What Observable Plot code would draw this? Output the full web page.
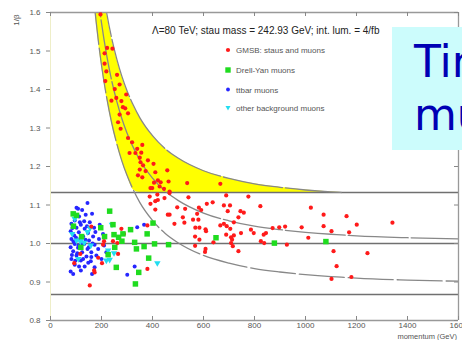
<!DOCTYPE html>
<html><head><meta charset="utf-8">
<script src="https://cdn.jsdelivr.net/npm/d3@7"></script>
<script src="https://cdn.jsdelivr.net/npm/@observablehq/plot@0.6"></script>
<style>
html,body{margin:0;padding:0;background:#fff;width:462px;height:340px;overflow:hidden;}
#wrap{position:relative;width:462px;height:340px;}
#chart svg{display:block;}
.ov{position:absolute;left:0;top:0;pointer-events:none;}
#box{position:absolute;left:392px;top:27px;width:70px;height:123px;background:#ccfcfc;overflow:hidden;}
</style></head><body>
<div id="wrap">
<div id="chart"></div>
<svg class="ov" width="462" height="340" font-family="Liberation Sans, Arial, sans-serif">
  <text x="152" y="34" font-size="10" fill="#222">Λ=80 TeV; stau mass = 242.93 GeV; int. lum. = 4/fb</text>
  <circle cx="228" cy="50" r="2.1" fill="#ff1a1a"/>
  <text x="236" y="53" font-size="8" fill="#555">GMSB: staus and muons</text>
  <rect x="225.3" y="67.3" width="5.4" height="5.4" fill="#1fdc1f"/>
  <text x="236" y="73" font-size="8" fill="#555">Drell-Yan muons</text>
  <circle cx="228" cy="89.5" r="1.9" fill="#2626ff"/>
  <text x="236" y="92.5" font-size="8" fill="#555">ttbar muons</text>
  <path d="M225.5,106 L230.5,106 L228,110.5 Z" fill="#22ddf0"/>
  <text x="236" y="111" font-size="8" fill="#555">other background muons</text>
  <text transform="translate(19,20) rotate(-90)" text-anchor="middle" font-size="8" fill="#555">1/β</text>
  <text x="457" y="339" text-anchor="end" font-size="7.5" fill="#555">momentum (GeV)</text>
</svg>
<div id="box"><svg width="70" height="123" font-family="DejaVu Sans, sans-serif">
  <text x="22" y="50" font-size="44" fill="#0000b4">Time</text>
  <text x="22" y="103" font-size="44" fill="#0000b4">muons</text>
</svg></div>
</div>
<script>
// ---- tick labels / axis values ----
const xTicks = [0, 200, 400, 600, 800, 1000, 1200, 1400, 1600];
const yTicks = [0.8, 0.9, 1.0, 1.1, 1.2, 1.3, 1.4, 1.5, 1.6];
// horizontal selection lines (1/beta)
const cutValues = [1.1325, 1.0, 0.8675];
const bandCut = 1.1325;

// ---- expected-curve values ----
const curveP    = [170, 175, 180, 190, 200, 220, 240, 260, 280, 300, 325, 350, 400, 450, 500, 600, 700, 800, 900, 1000, 1100, 1140, 1200, 1400, 1600];
const curveMid  = [1.744, 1.711, 1.680, 1.623, 1.573, 1.490, 1.423, 1.369, 1.324, 1.287, 1.249, 1.217, 1.170, 1.136, 1.112, 1.079, 1.059, 1.045, 1.036, 1.029, 1.024, 1.0225, 1.020, 1.015, 1.012];
const curveHigh = [1.854, 1.821, 1.790, 1.733, 1.683, 1.600, 1.533, 1.479, 1.434, 1.397, 1.359, 1.327, 1.280, 1.246, 1.222, 1.189, 1.169, 1.155, 1.146, 1.139, 1.134, 1.1325, 1.130, 1.125, 1.122];
const curveLow  = [1.634, 1.601, 1.570, 1.513, 1.463, 1.380, 1.313, 1.259, 1.214, 1.177, 1.139, 1.107, 1.060, 1.026, 1.002, 0.969, 0.949, 0.935, 0.926, 0.919, 0.914, 0.9125, 0.910, 0.905, 0.902];

// ---- GMSB staus and muons (red) ----
const gmsbP = [196,222,243,212,212,219,261,215,271,252,297,258,239,278,284,293,
 304,271,265,275,304,320,360,340,310,333,356,350,353,382,363,404,350,373,411,458,343,360,421,432,406,463,536,428,392,399,445,467,419,541,447,666,
 467,689,776,497,528,582,591,613,636,680,704,695,745,758,823,575,519,559,580,737,525,486,666,680,691,719,568,584,608,610,705,747,786,797,845,836,871,897,920,985,1011,689,708,712,719,567,584,639,708,825,838,927,567,715,608,606,737,467,
 1021,1071,1161,1341,1071,1102,1201,1171,1110,1243,1122,1102,1180,
 160,278,245,206,262,265,117,93,187,173,202,154,380,288,210,171,380,392,421,460,389,411,411];
const gmsbInvBeta = [1.595,1.508,1.506,1.494,1.467,1.447,1.438,1.422,1.413,1.401,1.387,1.378,1.371,1.370,1.354,1.351,
 1.338,1.335,1.315,1.298,1.274,1.263,1.256,1.246,1.235,1.235,1.236,1.223,1.211,1.216,1.203,1.207,1.192,1.188,1.185,1.190,1.177,1.172,1.164,1.159,1.158,1.161,1.157,1.148,1.144,1.144,1.142,1.135,1.127,1.120,1.118,1.155,
 1.131,1.125,1.122,1.094,1.090,1.093,1.087,1.103,1.107,1.099,1.099,1.084,1.084,1.080,1.097,1.077,1.068,1.062,1.062,1.068,1.054,1.051,1.047,1.051,1.045,1.055,1.041,1.041,1.037,1.032,1.038,1.027,1.036,1.027,1.027,1.023,1.040,1.042,1.044,1.042,1.015,1.023,1.016,1.010,1.021,1.018,1.010,1.003,1.001,1.006,1.001,0.997,0.994,0.993,0.986,0.978,0.980,1.075,
 1.093,1.075,1.071,1.054,1.045,1.032,1.049,1.029,0.980,0.975,0.941,0.908,0.913,
 1.044,1.038,1.006,0.997,1.001,0.973,0.973,0.949,0.963,0.925,0.949,0.891,1.047,1.025,1.006,0.930,0.934,1.103,1.113,1.075,1.122,1.110,1.088];

// ---- Drell-Yan muons (green) ----
const dyP = [89,102,232,197,249,267,212,314,379,280,330,367,408,463,226,385,346,333,119,245,284,258,252,337,649,878,1080,122,90,402];
const dyInvBeta = [1.077,1.073,1.084,1.041,1.023,1.016,1.018,1.036,1.025,1.006,1.003,0.992,0.999,0.997,0.971,0.962,0.925,0.895,0.990,1.049,1.025,0.938,0.990,0.986,1.015,1.001,1.005,1.018,1.045,1.053];

// ---- ttbar muons (blue) ----
const ttP = [145,102,124,138,163,112,95,132,154,82,119,102,134,171,79,111,147,93,128,167,82,115,151,95,132,173,79,108,145,89,124,160,102,141,180,82,119,158,95,134,173,89,79,119,163,210,206,193,340,219,187,301,330,367,
 86,90,100,110,125,137,150,165,105,128,148,97,112,84,176,190,200,115,143,160,108];
const ttInvBeta = [1.105,1.093,1.087,1.075,1.077,1.070,1.060,1.058,1.055,1.051,1.049,1.041,1.038,1.041,1.032,1.029,1.027,1.021,1.018,1.018,1.012,1.010,1.008,0.999,0.999,0.997,0.990,0.989,0.986,0.980,0.977,0.977,0.969,0.966,0.969,0.960,0.956,0.954,0.945,0.940,0.938,0.921,0.927,0.930,0.921,0.995,1.025,1.049,1.042,0.977,0.986,0.919,0.940,1.049,
 1.040,1.005,1.015,0.995,1.000,1.010,0.990,1.000,0.975,0.960,0.950,0.955,0.940,0.970,1.030,1.012,0.960,1.055,1.045,0.965,1.090];

// ---- other background muons (cyan) ----
const otherP = [95,241,145,121,102,132,158,226,249,232,419,117,85,155,109,219];
const otherInvBeta = [1.064,1.049,1.030,1.012,1.008,1.002,0.995,0.982,0.975,0.958,0.949,1.005,1.025,1.040,0.960,0.956];

const toRows = (ps, vs) => ps.map((p, i) => ({p, v: vs[i]}));
const gmsb = toRows(gmsbP, gmsbInvBeta);
const dy = toRows(dyP, dyInvBeta);
const tt = toRows(ttP, ttInvBeta);
const other = toRows(otherP, otherInvBeta);
const curve = curveP.map((p, i) => ({p, mid: curveMid[i], hi: curveHigh[i], lo: curveLow[i]}));

const W = 462, H = 340, mL = 50, mR = 4, mT = 12, mB = 20;
const iw = W - mL - mR, ih = H - mT - mB;
const gray = "#888";

const chart = Plot.plot({
  width: W, height: H,
  marginLeft: mL, marginRight: mR, marginTop: mT, marginBottom: mB,
  style: {background: "transparent", fontFamily: "Liberation Sans, Arial, sans-serif", fontSize: "8px", color: "#555"},
  x: {domain: [xTicks[0], xTicks[xTicks.length - 1]]},
  y: {domain: [yTicks[0], yTicks[yTicks.length - 1]]},
  marks: [
    Plot.areaY(curve, {x: "p", y1: d => Math.max(d.lo, bandCut), y2: d => Math.max(d.hi, bandCut), fill: "#ffff00", clip: true, curve: "monotone-x"}),
    Plot.ruleY(cutValues, {stroke: "#707070", strokeWidth: 1.4}),
    Plot.line(curve, {x: "p", y: "mid", stroke: gray, strokeWidth: 1.3, clip: true, curve: "monotone-x", strokeDasharray: "60,3"}),
    Plot.line(curve.filter(d => d.hi >= bandCut), {x: "p", y: "hi", stroke: gray, strokeWidth: 1.3, clip: true, curve: "monotone-x", strokeDasharray: "60,3"}),
    Plot.line(curve, {x: "p", y: "lo", stroke: gray, strokeWidth: 1.3, clip: true, curve: "monotone-x", strokeDasharray: "45,4"}),
    // frame
    Plot.ruleY([yTicks[0]], {stroke: "#999", strokeWidth: 1.3}),
    Plot.ruleY([yTicks[yTicks.length - 1]], {stroke: "#999", strokeWidth: 1.3}),
    Plot.ruleX([xTicks[xTicks.length - 1]], {stroke: "#999", strokeWidth: 1.3}),
    Plot.ruleX([xTicks[0]], {stroke: "#eeeec8", strokeWidth: 1}),
    // inner tick marks
    Plot.tickX(xTicks, {x: d => d, insetTop: ih - 4, stroke: "#888"}),
    Plot.tickX(xTicks, {x: d => d, insetBottom: ih - 4, stroke: "#888"}),
    Plot.tickY(yTicks, {y: d => d, insetLeft: iw - 4, stroke: "#888"}),
    Plot.axisX(xTicks, {tickSize: 0, tickPadding: 2, label: null, fill: "#555", tickFormat: d => String(d)}),
    Plot.axisY(yTicks, {tickSize: 4, tickPadding: 6, label: null, stroke: "#888", fill: "#555"}),
    // points
    Plot.dot(tt, {x: "p", y: "v", r: 2, fill: "#2626ff"}),
    Plot.dot(other, {x: "p", y: "v", r: 2.4, symbol: "triangle", fill: "#22ddf0", rotate: 180}),
    Plot.dot(gmsb, {x: "p", y: "v", r: 2.1, fill: "#ff1a1a"}),
    Plot.dot(dy, {x: "p", y: "v", r: 3.1, symbol: "square", fill: "#1fdc1f"})
  ]
});
document.getElementById("chart").appendChild(chart);
</script>
</body></html>
